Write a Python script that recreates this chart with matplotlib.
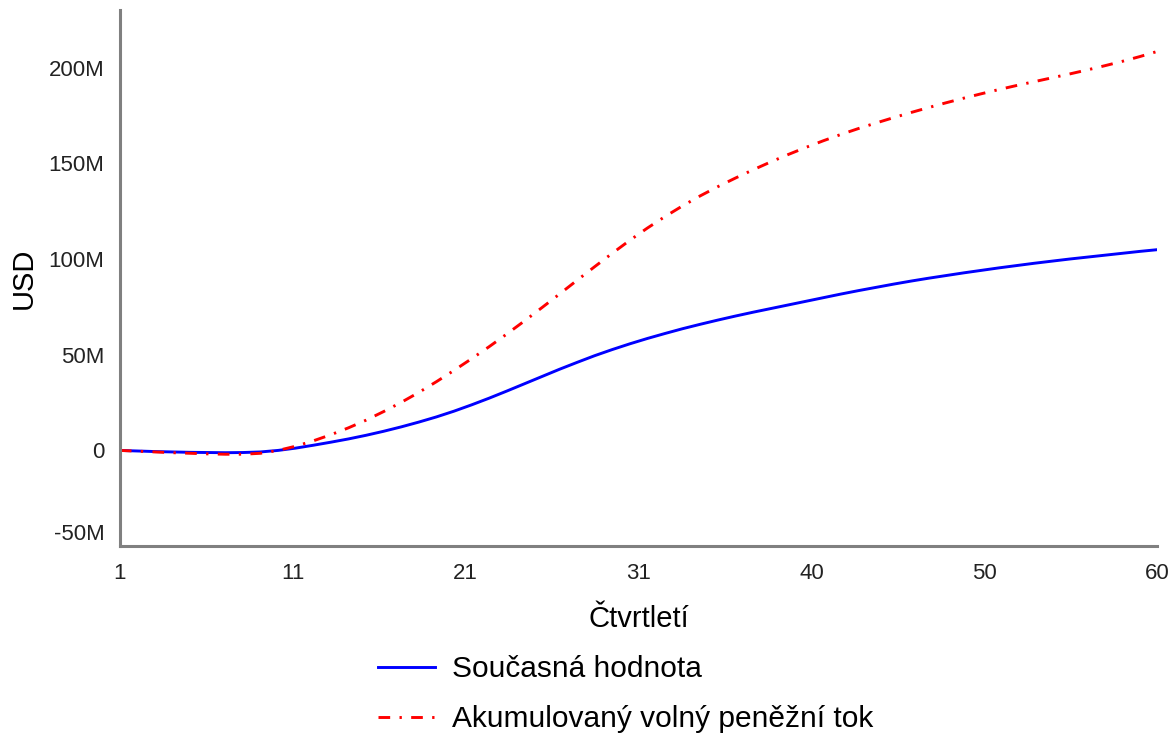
import numpy as np
import matplotlib
matplotlib.use("Agg")
import matplotlib.pyplot as plt
from matplotlib.transforms import ScaledTranslation

plt.rcParams["font.family"] = ["Liberation Sans", "DejaVu Sans"]

# quarters 1..60, values in millions USD
quarters = np.arange(1, 61)
soucasna_hodnota = [
    0.0, -0.3, -0.6, -0.8, -1.0, -1.1, -1.2, -1.1, -0.8, 0.0,
    1.2, 2.7, 4.3, 6.0, 7.9, 10.0, 12.3, 14.8, 17.5, 20.5,
    23.8, 27.3, 31.0, 34.8, 38.6, 42.4, 46.0, 49.5, 52.7, 55.7,
    58.5, 61.1, 63.6, 65.9, 68.1, 70.2, 72.2, 74.1, 76.0, 77.9,
    79.8, 81.7, 83.5, 85.2, 86.9, 88.5, 90.0, 91.4, 92.8, 94.1,
    95.4, 96.6, 97.8, 98.9, 100.0, 101.0, 102.0, 103.0, 104.0, 104.9,
]
akumulovany_tok = [
    0.0, -0.4, -0.8, -1.2, -1.5, -1.8, -2.0, -2.0, -1.5, 0.0,
    2.2, 5.0, 8.2, 11.8, 15.8, 20.3, 25.1, 30.3, 35.9, 41.8,
    47.9, 54.2, 60.8, 67.6, 74.6, 81.7, 88.9, 96.0, 103.0, 109.8,
    116.2, 122.2, 127.8, 133.0, 137.8, 142.3, 146.6, 150.7, 154.6, 158.3,
    161.8, 165.1, 168.2, 171.1, 173.9, 176.6, 179.2, 181.7, 184.1, 186.4,
    188.6, 190.7, 192.7, 194.7, 196.7, 198.8, 201.0, 203.3, 205.8, 208.5,
]
x_tick_labels = ["1", "11", "21", "31", "40", "50", "60"]
y_ticks = [-50, 0, 50, 100, 150, 200]
y_tick_labels = ["-50M", "0", "50M", "100M", "150M", "200M"]

fig = plt.figure(figsize=(11.75, 7.34), dpi=100)
ax = fig.add_axes([0.102, 0.256, 0.883, 0.730])

ax.plot(quarters, soucasna_hodnota, color="#0000ff", lw=2.1,
        label="Současná hodnota")
ax.plot(quarters, akumulovany_tok, color="#ff0000", lw=2.1,
        linestyle=(0, (4, 3.2, 0.8, 3.2)), label="Akumulovaný volný peněžní tok")

ax.set_xlim(1, 60)
ax.set_ylim(-50, 230)
ax.set_xticks(np.linspace(1, 60, 7))
ax.set_xticklabels(x_tick_labels)
ax.set_yticks(y_ticks)
ax.set_yticklabels(y_tick_labels)
ax.tick_params(length=0, labelsize=16, labelcolor="#222222")
ax.tick_params(axis="x", pad=12)
ax.tick_params(axis="y", pad=11)

# lowest y label sits inside the axis
lab = ax.get_yticklabels()[0]
lab.set_transform(lab.get_transform() + ScaledTranslation(0, 14 / 100, fig.dpi_scale_trans))

for s in ["top", "right"]:
    ax.spines[s].set_visible(False)
for s in ["left", "bottom"]:
    ax.spines[s].set_color("#808080")
    ax.spines[s].set_linewidth(2.2)

ax.set_xlabel("Čtvrtletí", fontsize=21, labelpad=15)
ax.set_ylabel("USD", fontsize=21, labelpad=8)

fig.legend(loc="upper left", bbox_to_anchor=(0.322, 0.107), frameon=False,
           fontsize=21.5, handlelength=1.9, handletextpad=0.55,
           labelspacing=0.72, borderaxespad=0, borderpad=0)

fig.savefig("out.png", dpi=100)
